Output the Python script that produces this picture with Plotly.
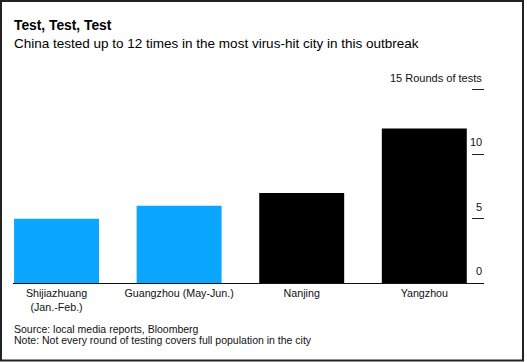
import plotly.graph_objects as go

# ---- data ----
cities = ["Shijiazhuang<br>(Jan.-Feb.)", "Guangzhou (May-Jun.)", "Nanjing", "Yangzhou"]
rounds = [5, 6, 7, 12]
bar_colors = ["#0aa6ff", "#0aa6ff", "#000000", "#000000"]
y_tickvals = [0, 5, 10, 15]
y_ticklabels = ["0", "5", "10", "15 Rounds of tests"]

title = "Test, Test, Test"
subtitle = "China tested up to 12 times in the most virus-hit city in this outbreak"
source = "Source: local media reports, Bloomberg"
note = "Note: Not every round of testing covers full population in the city"

FONT = "Liberation Sans, Arial, Helvetica, sans-serif"

fig = go.Figure()
fig.add_trace(go.Bar(
    x=cities, y=rounds, marker=dict(color=bar_colors, line=dict(width=0)),
    hoverinfo="skip",
))

annotations = []
for v, lab in zip(y_tickvals, y_ticklabels):
    annotations.append(dict(
        x=1, xref="paper", xanchor="right", y=v, yref="y", yanchor="bottom",
        yshift=4, text=lab, showarrow=False,
        font=dict(family=FONT, size=11, color="#111111"),
    ))

annotations += [
    dict(x=0, xref="paper", xanchor="left", xshift=-1, y=1.252, yref="paper", yanchor="middle",
         text="<b>" + title + "</b>", showarrow=False,
         font=dict(family=FONT, size=13.8, color="#000000")),
    dict(x=0, xref="paper", xanchor="left", xshift=-1, y=1.165, yref="paper", yanchor="middle",
         text=subtitle, showarrow=False,
         font=dict(family=FONT, size=13.5, color="#000000")),
    dict(x=0, xref="paper", xanchor="left", xshift=-1, y=-0.223, yref="paper", yanchor="middle",
         text=source, showarrow=False,
         font=dict(family=FONT, size=10.5, color="#111111")),
    dict(x=0, xref="paper", xanchor="left", xshift=-1, y=-0.277, yref="paper", yanchor="middle",
         text=note, showarrow=False,
         font=dict(family=FONT, size=10.5, color="#111111")),
]

fig.update_layout(
    width=527, height=362,
    margin=dict(l=13, r=43, t=77, b=79, pad=0),
    paper_bgcolor="white", plot_bgcolor="white",
    bargap=0.307,
    showlegend=False,
    font=dict(family=FONT, size=11, color="#111111"),
    xaxis=dict(
        type="category", range=[-0.355, 3.487],
        showline=True, linecolor="#111111", linewidth=1,
        showgrid=False, zeroline=False, ticks="", fixedrange=True,
        tickfont=dict(family=FONT, size=10.7, color="#111111"),
    ),
    yaxis=dict(
        range=[0, 16], side="right", showgrid=False, zeroline=False,
        tickvals=y_tickvals, ticks="inside", ticklen=12, tickwidth=1,
        tickcolor="#222222", showticklabels=False, showline=False, fixedrange=True,
    ),
    annotations=annotations,
    shapes=[dict(type="rect", xref="paper", yref="paper",
                 x0=-0.0255, x1=1.0828, y0=-0.376, y1=1.369,
                 line=dict(color="#222222", width=2), fillcolor="rgba(0,0,0,0)")],
)

fig.write_html("out.html", config={"displayModeBar": False},
               post_script="document.body.style.margin='0';document.body.style.overflow='hidden';")
